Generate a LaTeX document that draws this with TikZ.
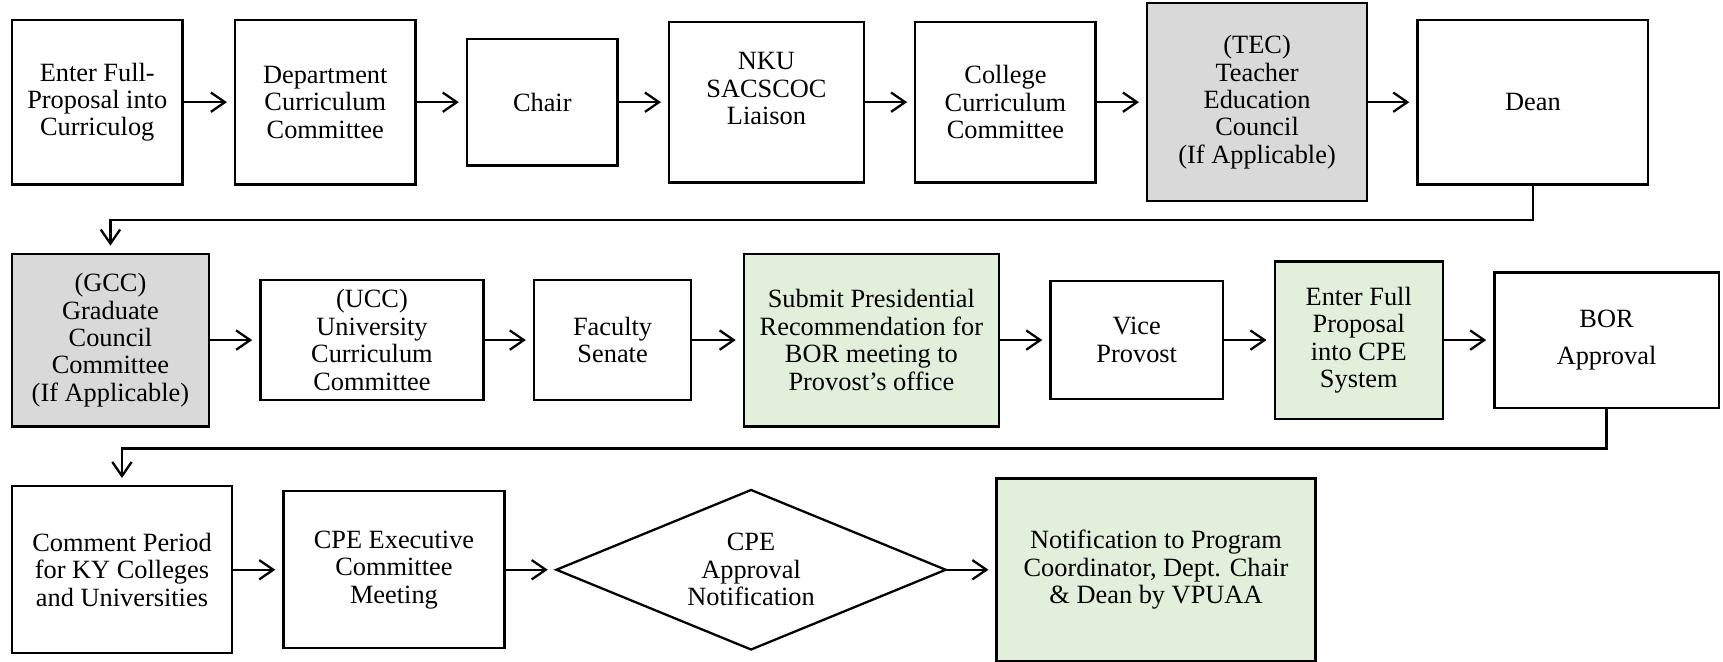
\documentclass[tikz,border=0pt]{standalone}
\usepackage{fontspec}
\setmainfont{Liberation Serif}
\usetikzlibrary{shapes.geometric,arrows.meta,positioning,calc}

\definecolor{grayfill}{HTML}{D9D9D9}
\definecolor{greenfill}{HTML}{E2EFDA}

\tikzset{
    stepbox/.style={draw, line width=1.3pt, align=center, inner sep=2pt,
        font=\fontsize{15}{15.6}\selectfont},
    graybox/.style={stepbox, fill=grayfill},
    greenbox/.style={stepbox, fill=greenfill},
    decision/.style={draw, diamond, aspect=2.43, line width=1.3pt, align=center, inner sep=0pt,
        font=\fontsize{15}{15.6}\selectfont},
    flow/.style={-{Straight Barb[length=8pt,width=11pt]}, line width=1.3pt, shorten >=4pt}
}

\begin{document}
\begin{tikzpicture}[x=0.02198cm, y=-0.02198cm]
    \useasboundingbox (0,0) rectangle (1568,602);

    % Row 1
    \node[stepbox, minimum width=3.407cm, minimum height=3.297cm] (enter) at (88.5,93) {Enter Full-\\Proposal into\\Curriculog};
    \node[stepbox, minimum width=3.605cm, minimum height=3.297cm] (dept) at (296,93) {Department\\Curriculum\\Committee};
    \node[stepbox, minimum width=3.011cm, minimum height=2.528cm] (chair) at (493.5,93) {Chair};
    \node[stepbox, minimum width=3.890cm, minimum height=3.209cm] (liaison) at (697.5,93) {NKU\\SACSCOC\\Liaison\\\mbox{}};
    \node[stepbox, minimum width=3.605cm, minimum height=3.209cm] (college) at (915,93) {College\\Curriculum\\Committee};
    \node[graybox, minimum width=4.396cm, minimum height=3.956cm] (tec) at (1144,93) {(TEC)\\Teacher\\Education\\Council\\(If Applicable)};
    \node[stepbox, minimum width=4.616cm, minimum height=3.297cm] (dean) at (1395,93) {Dean};

    % Row 2
    \node[graybox, minimum width=3.934cm, minimum height=3.451cm] (gcc) at (100.5,309.5) {(GCC)\\Graduate\\Council\\Committee\\(If Applicable)};
    \node[stepbox, minimum width=4.462cm, minimum height=2.396cm] (ucc) at (338.5,309.5) {(UCC)\\University\\Curriculum\\Committee};
    \node[stepbox, minimum width=3.143cm, minimum height=2.396cm] (senate) at (557.5,309.5) {Faculty\\Senate};
    \node[greenbox, minimum width=5.099cm, minimum height=3.451cm] (submit) at (793,309.5) {Submit Presidential\\Recommendation for\\BOR meeting to\\Provost’s office};
    \node[stepbox, minimum width=3.451cm, minimum height=2.352cm] (vice) at (1034.5,309.5) {Vice\\Provost};
    \node[greenbox, minimum width=3.363cm, minimum height=3.143cm] (cpesys) at (1236.5,309.5) {Enter Full\\Proposal\\into CPE\\System};
    \node[stepbox, minimum width=4.484cm, minimum height=2.704cm] (bor) at (1462,309.5) {BOR\\[5.4pt]Approval};

    % Row 3
    \node[stepbox, minimum width=4.396cm, minimum height=3.341cm] (comment) at (111,518.5) {Comment Period\\for KY Colleges\\and Universities};
    \node[stepbox, minimum width=4.418cm, minimum height=3.143cm] (exec) at (358.5,518.5) {CPE Executive\\Committee\\Meeting};
    \node[decision, minimum width=7.803cm, minimum height=3.209cm] (approval) at (683.5,518.5) {CPE\\Approval\\Notification};
    \node[greenbox, minimum width=6.374cm, minimum height=3.649cm] (notify) at (1052,518.5) {Notification to Program\\Coordinator, Dept. Chair\\\& Dean by VPUAA};

    % arrows along the rows
    \foreach \a/\b in {enter/dept, dept/chair, chair/liaison, liaison/college, college/tec, tec/dean,
                       gcc/ucc, ucc/senate, senate/submit, submit/vice, vice/cpesys, cpesys/bor,
                       comment/exec, exec/approval, approval/notify}
        \draw[flow] (\a) -- (\b);

    % wrap to next row
    \draw[flow] (dean.south) -- ++(0,31) -| (gcc.north);
    \draw[flow] (bor.south) -- ++(0,36) -| (comment.north);
\end{tikzpicture}
\end{document}
